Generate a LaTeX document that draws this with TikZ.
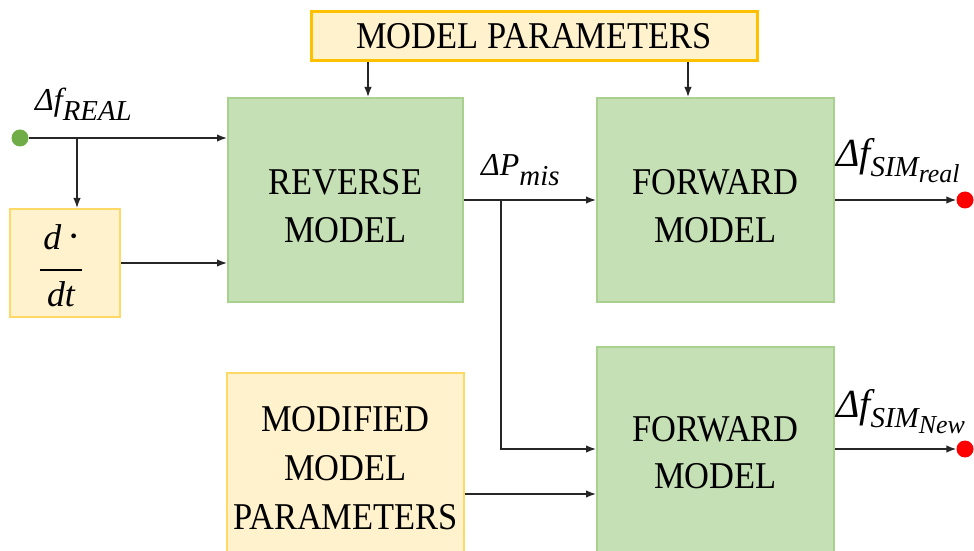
\documentclass[tikz,border=0pt]{standalone}
\usepackage{fontspec}
\setmainfont{Liberation Serif}[FakeStretch=0.91]
\newfontfamily\sigfont{Liberation Serif}
\usetikzlibrary{arrows.meta}

\definecolor{greenfill}{HTML}{C5E0B4}
\definecolor{greenline}{HTML}{A9D18E}
\definecolor{yellowfill}{HTML}{FFF2CC}
\definecolor{orangeline}{HTML}{FFC000}
\definecolor{yellowline}{HTML}{FFD966}
\definecolor{dotgreen}{HTML}{70AD47}
\definecolor{dotred}{HTML}{FF0000}
\definecolor{wire}{HTML}{262626}

\tikzset{
  block/.style={draw=greenline, fill=greenfill, line width=2bp, inner sep=0pt,
    align=center, font=\fontsize{38}{47}\selectfont},
  param/.style={draw=yellowline, fill=yellowfill, line width=2bp, inner sep=0pt,
    align=center, font=\fontsize{38}{49}\selectfont},
  mainparam/.style={param, draw=orangeline, line width=3bp},
  arr/.style={draw=wire, line width=1.5bp, -{Latex[length=10bp,width=7.5bp]}},
  sig/.style={inner sep=0pt, anchor=base west, font=\sigfont\itshape},
  dot/.style={circle, inner sep=0pt, minimum size=17bp},
}
% italic signal names: base letters, a lowered index, and an optional second index
\newcommand{\sgn}[4]{{\fontsize{#1}{#1}\selectfont #2}\raisebox{-10bp}{\fontsize{#3}{#3}\selectfont #4}}
\newcommand{\sgnn}[4]{{\fontsize{40}{40}\selectfont #1}\raisebox{-10bp}{\fontsize{29}{29}\selectfont #2\raisebox{-6bp}{\fontsize{#3}{#3}\selectfont #4}}}
% two-line block caption, set a little below the block's middle
\newcommand{\twoline}[2]{\raisebox{-6bp}[\height][\depth]{\shortstack{#1\\[19bp]#2}}}

\begin{document}
\begin{tikzpicture}[x=1bp, y=-1bp]
\useasboundingbox (0,0) rectangle (974,551);

% blocks
\node[mainparam, minimum width=446bp, minimum height=49bp] (top) at (534,36.5) {MODEL PARAMETERS};
\node[block, minimum width=235bp, minimum height=204bp] (rev) at (345.5,200) {\twoline{REVERSE}{MODEL}};
\node[block, minimum width=237bp, minimum height=204bp] (fwdA) at (715.5,200) {\twoline{FORWARD}{MODEL}};
\node[block, minimum width=237bp, minimum height=212bp] (fwdB) at (715.5,453) {FORWARD\\MODEL};
\node[param, minimum width=110bp, minimum height=108bp] (ddt) at (65,263) {};
\node[param, minimum width=237bp, minimum height=190bp] (mod) at (345.5,468) {MODIFIED\\MODEL\\PARAMETERS};

% derivative operator written as a stacked fraction
\node[inner sep=0pt, anchor=base, font=\sigfont\fontsize{36}{40}\selectfont\itshape] (ddtnum) at (62,250) {d\,{\upshape\fontsize{40}{40}\selectfont ·}};
\node[inner sep=0pt, anchor=base, font=\sigfont\fontsize{36}{40}\selectfont\itshape] (ddtden) at (61,307) {dt};
\draw[line width=1.8bp, black] ([xshift=-25bp]ddt.center |- 0,270) coordinate (barL) -- ([xshift=17bp]ddt.center |- 0,270) coordinate (barR);

% terminals
\node[dot, fill=dotgreen] (src) at (20,138) {};
\node[dot, fill=dotred] (outA) at (965,200) {};
\node[dot, fill=dotred] (outB) at (965,449) {};

% helper points
\coordinate (tapA) at (77,138);
\coordinate (pA) at (368,80);
\coordinate (pB) at (688,80);
\coordinate (tapB) at (501,200);
\coordinate (turnB) at (501,449);
\coordinate (modout) at (464,494);

% connectors
\draw[arr] (src) -- (rev.west |- src);
\draw[arr] (tapA) -- (ddt.north -| tapA);
\draw[arr] (ddt.east) -- (rev.west |- ddt.east);
\draw[arr] (top.south -| pA) -- (rev.north -| pA);
\draw[arr] (top.south -| pB) -- (fwdA.north -| pB);
\draw[arr] (rev.east) -- (fwdA.west);
\draw[arr] (tapB) -- (turnB) -- (fwdB.west |- turnB);
\draw[arr] (mod.east |- modout) -- (fwdB.west |- modout);
\draw[arr] (fwdA.east) -- (outA.west);
\draw[arr] (fwdB.east |- outB) -- (outB.west);

% signal labels
\node[sig] (lblreal) at (35,111) {\sgn{32}{Δf}{29}{REAL}};
\node[sig] (lblmis) at (481,176) {\sgn{32}{ΔP}{29}{mis}};
\node[sig] (lblsimA) at (836,167) {\sgnn{Δf}{SIM}{26}{real}};
\node[sig] (lblsimB) at (836,417) {\sgnn{Δf}{SIM}{26}{New}};
\end{tikzpicture}
\end{document}
